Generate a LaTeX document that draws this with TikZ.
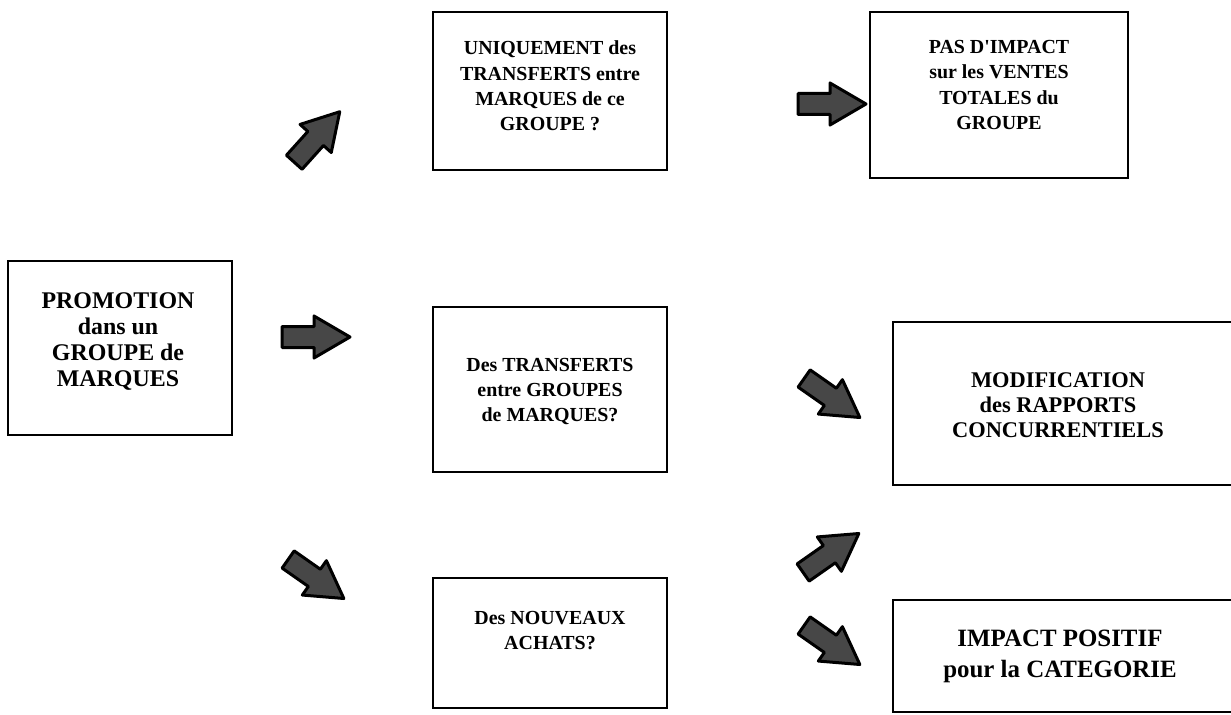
\documentclass[tikz,border=0pt]{standalone}
\usepackage{fontspec}
\setmainfont{Liberation Serif}
\usetikzlibrary{positioning}
\tikzset{
  box/.style={draw, line width=2.4bp, inner sep=0pt},
  smalltxt/.style={align=center, font=\fontsize{20}{25.5}\selectfont\bfseries},
  bigtxt/.style={align=center, font=\fontsize{24}{26}\selectfont\bfseries},
  arrowfill/.style={draw, line width=3bp, line join=round, fill=black!72}
}
% block arrow: x, y, angle
\newcommand{\fatarrow}[3] {
    \draw[arrowfill, shift={(#1,#2)}, rotate=#3] (-34,-10.5) -- (-2,-10.5) -- (-2,-21) -- (34,0) -- (-2,21) -- (-2,10.5) -- (-34,10.5) -- cycle;
}
\begin{document}
\begin{tikzpicture}[x=1bp, y=-1bp]
                \useasboundingbox (0,0) rectangle (1231,715);
                % boxes
                \node[box, minimum width=224bp, minimum height=174bp] (promo) at (120,348) {};
                \node[box, minimum width=234bp, minimum height=158bp] (uniq) at (550,91) {};
                \node[box, minimum width=258bp, minimum height=166bp] (pasimp) at (999,95) {};
                \node[box, minimum width=234bp, minimum height=165bp] (transf) at (550,389.5) {};
                \node[box, minimum width=347bp, minimum height=163bp] (modif) at (1066.5,403.5) {};
                \node[box, minimum width=234bp, minimum height=130bp] (nouv) at (550,643) {};
                \node[box, minimum width=347bp, minimum height=112bp] (posit) at (1066.5,656) {};
                % texts
                \node[bigtxt] (promo-t) at (118,341.5) {PROMOTION\\dans un\\GROUPE de\\MARQUES};
                \node[smalltxt] (uniq-t) at (550,86) {UNIQUEMENT des\\TRANSFERTS entre\\MARQUES de ce\\GROUPE ?};
                \node[smalltxt] (pasimp-t) at (999,85) {PAS D\textquotesingle IMPACT\\sur les VENTES\\TOTALES du\\GROUPE};
                \node[smalltxt] (transf-t) at (550,391.5) {Des TRANSFERTS\\entre GROUPES\\de MARQUES?};
                \node[bigtxt, font=\fontsize{22.5}{25}\selectfont\bfseries] (modif-t) at (1058,405.5) {MODIFICATION\\des RAPPORTS\\CONCURRENTIELS};
                \node[smalltxt] (nouv-t) at (550,630.5) {Des NOUVEAUX\\ACHATS?};
                \node[bigtxt, font=\fontsize{25}{31}\selectfont\bfseries] (posit-t) at (1060,656.5) {IMPACT POSITIF\\pour la CATEGORIE};
                % arrows
                \fatarrow{317}{137}{48}
                \fatarrow{316}{337}{0}
                \fatarrow{316}{579}{-35}
                \fatarrow{832}{104}{0}
                \fatarrow{832}{398}{-35}
                \fatarrow{831}{553}{35}
                \fatarrow{832}{645}{-35}
\end{tikzpicture}
\end{document}
